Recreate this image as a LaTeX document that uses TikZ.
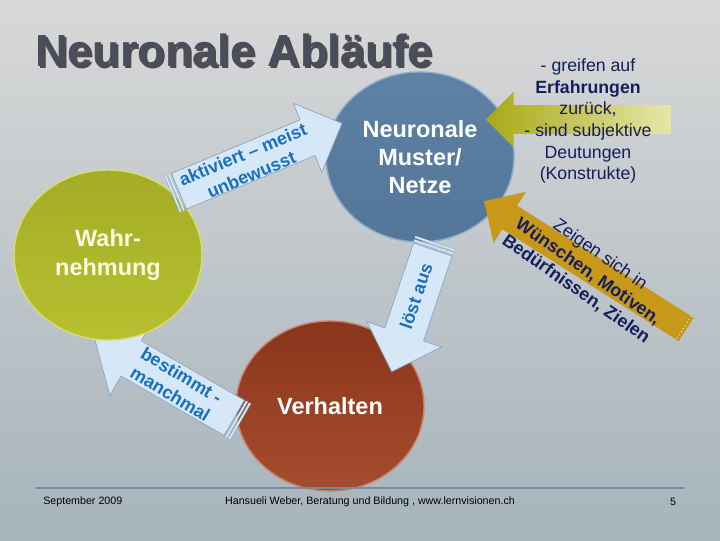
\documentclass[tikz,border=0pt]{standalone}
\usepackage{fontspec}
\setmainfont{Liberation Sans}
\usetikzlibrary{shapes.geometric,shapes.arrows}

\definecolor{bgtop}{RGB}{216,216,216}
\definecolor{bgmid}{RGB}{226,230,232}
\definecolor{bgbot}{RGB}{166,180,188}
\definecolor{titlegray}{RGB}{76,77,90}
\definecolor{arrowfill}{RGB}{214,232,248}
\definecolor{arrowline}{RGB}{140,165,190}
\definecolor{arrowtext}{RGB}{26,112,186}
\definecolor{navy}{RGB}{20,30,92}
\definecolor{goldA}{RGB}{200,152,24}
\definecolor{goldB}{RGB}{228,184,48}
\definecolor{oliveA}{RGB}{168,168,24}
\definecolor{oliveB}{RGB}{230,230,168}
\definecolor{footline}{RGB}{122,136,156}

\tikzset{
  blob/.style={ellipse, minimum width=4.7cm, minimum height=4.25cm, line width=1pt,
    text=white, align=center, font=\fontsize{16.7}{20}\selectfont\bfseries},
  blockarrow/.style={single arrow, inner xsep=0pt, minimum width=0pt},
  bluearrow/.style={blockarrow, fill=arrowfill, draw=arrowline, line width=0.5pt},
  stripe/.style={draw=arrowline, line width=0.3pt, double=arrowfill, double distance=1.2pt},
  arrowlabel/.style={text=arrowtext, align=center, inner sep=0pt,
    font=\fontsize{12.8}{15.5}\selectfont\bfseries},
  foot/.style={text=black, inner sep=0pt, font=\fontsize{7.6}{9}\selectfont}
}

\begin{document}
\begin{tikzpicture}[x=0.025cm,y=-0.025cm]
  \useasboundingbox (0,0) rectangle (720,540);
  \shade[top color=bgtop, middle color=bgmid, bottom color=bgbot] (0,0) rectangle (720,540);

  % circles and the light blue arrows
  \node[blob, draw={rgb,255:red,200;green,132;blue,112},
        top color={rgb,255:red,138;green,54;blue,28}, middle color={rgb,255:red,126;green,46;blue,22},
        bottom color={rgb,255:red,166;green,76;blue,46}] (verh) at (330,406) {Verhalten};
  \node[bluearrow, rotate=150, minimum height=4.04cm, inner ysep=0.5cm,
        single arrow head extend=0.56cm] (aC) at (173,382.5) {};
  \draw[stripe] ([shift={(330:0.06cm)}]aC.before tail) -- ([shift={(330:0.06cm)}]aC.after tail);
  \draw[stripe] ([shift={(330:0.15cm)}]aC.before tail) -- ([shift={(330:0.15cm)}]aC.after tail);
  \node[blob, draw={rgb,255:red,214;green,222;blue,110},
        top color={rgb,255:red,164;green,172;blue,38}, middle color={rgb,255:red,142;green,150;blue,24},
        bottom color={rgb,255:red,184;green,192;blue,48}, text={rgb,255:red,250;green,250;blue,225}]
        (wahr) at (108,255) {Wahr-\\nehmung};
  \node[blob, draw={rgb,255:red,140;green,172;blue,204},
        top color={rgb,255:red,94;green,130;blue,164}, middle color={rgb,255:red,70;green,104;blue,138},
        bottom color={rgb,255:red,84;green,118;blue,152}] (netze) at (420,157) {Neuronale\\Muster/\\Netze};

  \node[bluearrow, rotate=22.6, minimum height=4.415cm, inner ysep=0.475cm,
        single arrow head extend=0.45cm] (aA) at (251.5,161) {};
  \draw[stripe] ([shift={(202.6:0.06cm)}]aA.before tail) -- ([shift={(202.6:0.06cm)}]aA.after tail);
  \draw[stripe] ([shift={(202.6:0.15cm)}]aA.before tail) -- ([shift={(202.6:0.15cm)}]aA.after tail);
  \node[bluearrow, rotate=-108.6, minimum height=3.22cm, inner ysep=0.5cm,
        single arrow head extend=0.475cm] (aB) at (415.5,301) {};
  \draw[stripe] ([shift={(71.4:0.06cm)}]aB.before tail) -- ([shift={(71.4:0.06cm)}]aB.after tail);
  \draw[stripe] ([shift={(71.4:0.15cm)}]aB.before tail) -- ([shift={(71.4:0.15cm)}]aB.after tail);

  \node[arrowlabel, rotate=22.6] (tA) at (247,164.5) {aktiviert -- meist\\unbewusst};
  \node[arrowlabel, rotate=71.4] (tB) at (416,296) {löst aus};
  \node[arrowlabel, rotate=-31] (tC) at (176,384.5) {bestimmt -\\manchmal};

  % gold and olive arrows
  \node[blockarrow, rotate=147.6, minimum height=5.98cm, inner ysep=0.34cm,
        single arrow head extend=0.41cm, top color=goldA, middle color=goldB, bottom color=goldA]
        (aD) at (591,269) {};
  \draw[white, dotted, line width=0.6pt] ([shift={(147.6:0.08cm)}]aD.before tail) -- ([shift={(147.6:0.08cm)}]aD.after tail);
  \node[text=navy, align=center, inner sep=0pt, rotate=-35,
        font=\fontsize{12.7}{15}\selectfont\bfseries] (tD) at (588,272)
        {{\mdseries Zeigen sich in}\\Wünschen, Motiven,\\Bedürfnissen, Zielen};

  \node[blockarrow, rotate=180, minimum height=4.625cm, inner ysep=0.35cm,
        single arrow head extend=0.34cm, left color=oliveA, right color=oliveB] (aE) at (585.5,119.5) {};
  \node[text=navy, align=center, inner sep=0pt, font=\fontsize{12.6}{15.4}\selectfont] (erfahr) at (588,121)
        {- greifen auf\\\textbf{Erfahrungen}\\zurück,\\- sind subjektive\\Deutungen\\(Konstrukte)};

  % title and footer
  \node[anchor=base west, inner sep=0pt, text=black!70, font=\fontsize{32}{36}\selectfont\bfseries]
        (titleshadow) at (37,68) {Neuronale Abläufe};
  \node[anchor=base west, inner sep=0pt, text=titlegray, font=\fontsize{32}{36}\selectfont\bfseries]
        (title) at (35,66) {Neuronale Abläufe};
  \draw[footline, line width=1.2pt] (36,488) -- (684,488);
  \node[foot, anchor=west] (date) at (43,502) {September 2009};
  \node[foot] (author) at (370,502) {Hansueli Weber, Beratung und Bildung , www.lernvisionen.ch};
  \node[foot] (page) at (673,502) {5};
\end{tikzpicture}
\end{document}
